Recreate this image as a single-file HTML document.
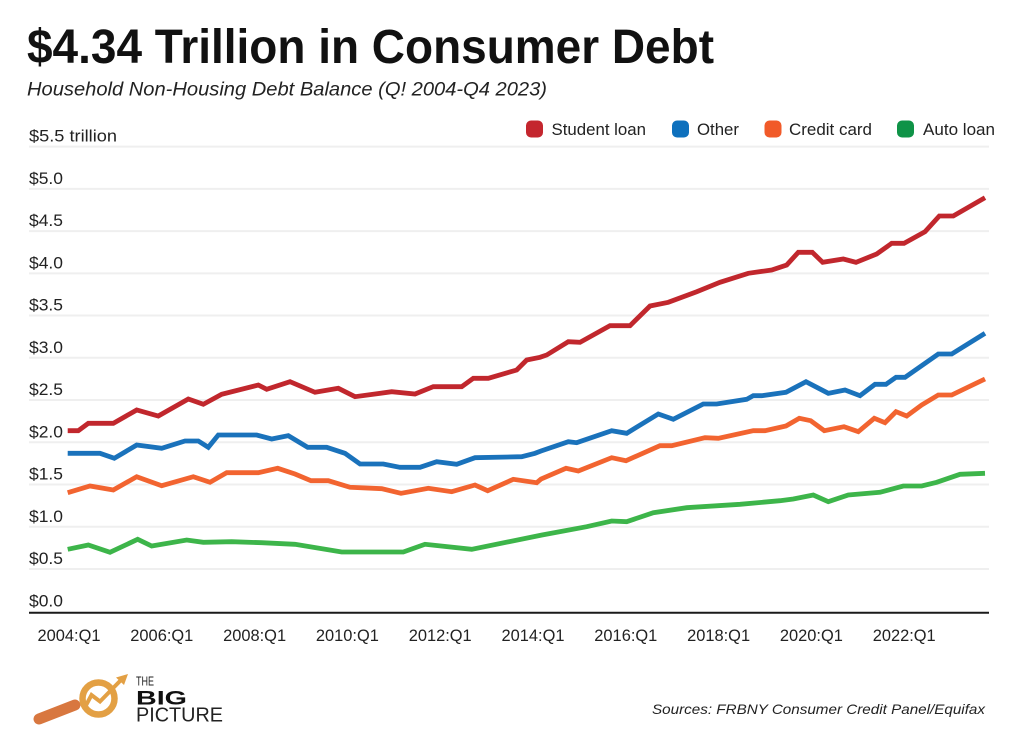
<!DOCTYPE html>
<html>
<head>
<meta charset="utf-8">
<style>
  html, body { margin: 0; padding: 0; background: #ffffff; }
  svg { display: block; }
  text { font-family: "Liberation Sans", "DejaVu Sans", sans-serif; }
</style>
</head>
<body>
<svg width="1023" height="749" viewBox="0 0 1023 749" xmlns="http://www.w3.org/2000/svg">
  <rect x="0" y="0" width="1023" height="749" fill="#ffffff"/>

  <!-- Title -->
  <text x="27" y="63" font-size="48" font-weight="bold" fill="#111111" textLength="687" lengthAdjust="spacingAndGlyphs">$4.34 Trillion in Consumer Debt</text>
  <text x="27" y="95.5" font-size="19.5" font-style="italic" fill="#222222" textLength="520" lengthAdjust="spacingAndGlyphs">Household Non-Housing Debt Balance (Q! 2004-Q4 2023)</text>

  <!-- Gridlines -->
  <g stroke="#efefef" stroke-width="2">
    <line x1="29" y1="568.97" x2="989" y2="568.97"/>
    <line x1="29" y1="526.73" x2="989" y2="526.73"/>
    <line x1="29" y1="484.5" x2="989" y2="484.5"/>
    <line x1="29" y1="442.26" x2="989" y2="442.26"/>
    <line x1="29" y1="400.03" x2="989" y2="400.03"/>
    <line x1="29" y1="357.8" x2="989" y2="357.8"/>
    <line x1="29" y1="315.56" x2="989" y2="315.56"/>
    <line x1="29" y1="273.32" x2="989" y2="273.32"/>
    <line x1="29" y1="231.1" x2="989" y2="231.1"/>
    <line x1="29" y1="188.85" x2="989" y2="188.85"/>
    <line x1="29" y1="146.6" x2="989" y2="146.6"/>
  </g>

  <!-- Y labels -->
  <g font-size="16.5" fill="#222222">
    <text x="29" y="606.5" textLength="34" lengthAdjust="spacingAndGlyphs">$0.0</text>
    <text x="29" y="564.2" textLength="34" lengthAdjust="spacingAndGlyphs">$0.5</text>
    <text x="29" y="521.9" textLength="34" lengthAdjust="spacingAndGlyphs">$1.0</text>
    <text x="29" y="479.6" textLength="34" lengthAdjust="spacingAndGlyphs">$1.5</text>
    <text x="29" y="437.4" textLength="34" lengthAdjust="spacingAndGlyphs">$2.0</text>
    <text x="29" y="395.1" textLength="34" lengthAdjust="spacingAndGlyphs">$2.5</text>
    <text x="29" y="352.9" textLength="34" lengthAdjust="spacingAndGlyphs">$3.0</text>
    <text x="29" y="310.6" textLength="34" lengthAdjust="spacingAndGlyphs">$3.5</text>
    <text x="29" y="268.4" textLength="34" lengthAdjust="spacingAndGlyphs">$4.0</text>
    <text x="29" y="226.2" textLength="34" lengthAdjust="spacingAndGlyphs">$4.5</text>
    <text x="29" y="183.9" textLength="34" lengthAdjust="spacingAndGlyphs">$5.0</text>
    <text x="29" y="141.6" textLength="88" lengthAdjust="spacingAndGlyphs">$5.5 trillion</text>
  </g>

  <!-- Legend -->
  <g font-size="16.5" fill="#222222">
    <rect x="526" y="120.5" width="17" height="17" rx="5" fill="#c4262e"/>
    <text x="551.5" y="135" textLength="94.5" lengthAdjust="spacingAndGlyphs">Student loan</text>
    <rect x="672" y="120.5" width="17" height="17" rx="5" fill="#0e70bd"/>
    <text x="697" y="135" textLength="42" lengthAdjust="spacingAndGlyphs">Other</text>
    <rect x="764.5" y="120.5" width="17" height="17" rx="5" fill="#f15a29"/>
    <text x="789" y="135" textLength="83" lengthAdjust="spacingAndGlyphs">Credit card</text>
    <rect x="897" y="120.5" width="17" height="17" rx="5" fill="#0f9347"/>
    <text x="923" y="135" textLength="72" lengthAdjust="spacingAndGlyphs">Auto loan</text>
  </g>

  <!-- Series -->
  <g fill="none" stroke-width="4.8" stroke-linejoin="miter" stroke-linecap="butt">
    <polyline stroke="#3db54a" points="67.7,549.3 88.3,545 110,552.3 137.7,539.3 151.7,546 186.7,540 203.3,542.3 231.7,541.7 261.7,542.7 295,544.3 341.7,552 403.3,552 425,544.3 471.7,549.3 542,535 586.7,526.7 611.7,521 626.7,521.7 653.3,512.7 686.7,507.7 740,504.3 780,500.7 793.3,499 813.3,495 828.3,501.7 848.3,495 880,492.3 903.3,486 921.7,486 936.7,482.3 960,474.3 985,473.3"/>
    <polyline stroke="#f26430" points="67.7,492.7 90,486 113.3,490 136.7,476.7 161.7,485.7 193.3,476.7 210,482.3 226.7,472.7 258.3,472.7 277.7,468.3 295,474 311,480.7 328.3,480.7 350,487.3 381.7,488.7 401,493.3 428.3,488.3 451.7,491.7 475,485 487.7,490.7 513.3,479.3 536.7,482.7 541,479 566,468.3 578.3,471 611.7,457.7 626,460.7 660,445.7 671.7,445.7 705,437.7 718.3,438.3 753.3,430.7 765,430.7 786,426 799.3,418.3 810.7,420.7 824.3,430.7 844,426.7 858.3,431.7 874.3,418.3 885,422.7 896,411.7 906.7,416 921.7,405 938.3,395 951.7,395 985,379"/>
    <polyline stroke="#1a72bb" points="67.7,453.3 100,453.3 114.3,458.3 136.7,445 161.7,448.3 185,441 198.3,441 208.3,447.3 218.3,435 256.7,435 271.7,439 288.3,435.7 307.7,447.3 326.7,447.3 345,453.3 360,464 383.3,464 400,467.3 420,467.3 436.7,461.7 456.7,464.3 475,457.7 521.7,456.7 535,453.3 541,451 568.3,441.7 576.7,442.7 611.7,430.7 626.7,433.3 658.3,414 673.3,419.3 703.3,404 716.7,404 746.7,399.3 753.3,395.7 761.7,395.7 786,392.3 806,381.7 828.3,393.3 845,390 860,395.7 875,384.3 886,384.3 896,377.3 905,377.3 938.3,354 951.7,354 985,333.3"/>
    <polyline stroke="#c1272d" points="67.7,430.7 78.3,430.7 88.3,423.3 113.3,423.3 136.7,410 158.3,416 188.3,399 203.3,404.3 221.7,394.3 258.3,385 266.7,389.3 290,381.7 315,392.3 338.3,388.3 355,396.7 391.7,391.7 415,394 433.3,386.7 461.7,386.7 473.3,378.3 488.3,378.3 516.7,370 526.7,360 540,357.3 546.7,355 568.3,341.7 580,342.3 610,325.7 630,325.7 650,306 668.3,302.3 696.7,291.7 720,282.3 748.3,273.3 771.7,270 786.7,265 798.3,252.3 812.3,252.3 822.7,262.3 843.3,259 856,262.3 876.7,254 891.7,243.3 904,243.3 925,231.7 939.3,216 953.3,216 985,197.7"/>
  </g>

  <!-- X axis -->
  <line x1="29" y1="612.7" x2="989" y2="612.7" stroke="#1a1a1a" stroke-width="2"/>

  <!-- X labels -->
  <g font-size="16.5" fill="#222222" text-anchor="middle">
    <text x="69" y="641" textLength="63" lengthAdjust="spacingAndGlyphs">2004:Q1</text>
    <text x="161.8" y="641" textLength="63" lengthAdjust="spacingAndGlyphs">2006:Q1</text>
    <text x="254.6" y="641" textLength="63" lengthAdjust="spacingAndGlyphs">2008:Q1</text>
    <text x="347.4" y="641" textLength="63" lengthAdjust="spacingAndGlyphs">2010:Q1</text>
    <text x="440.2" y="641" textLength="63" lengthAdjust="spacingAndGlyphs">2012:Q1</text>
    <text x="533" y="641" textLength="63" lengthAdjust="spacingAndGlyphs">2014:Q1</text>
    <text x="625.8" y="641" textLength="63" lengthAdjust="spacingAndGlyphs">2016:Q1</text>
    <text x="718.6" y="641" textLength="63" lengthAdjust="spacingAndGlyphs">2018:Q1</text>
    <text x="811.4" y="641" textLength="63" lengthAdjust="spacingAndGlyphs">2020:Q1</text>
    <text x="904.2" y="641" textLength="63" lengthAdjust="spacingAndGlyphs">2022:Q1</text>
  </g>

  <!-- Source -->
  <text x="652" y="714" font-size="14" font-style="italic" fill="#222222" textLength="333" lengthAdjust="spacingAndGlyphs">Sources: FRBNY Consumer Credit Panel/Equifax</text>

  <!-- Logo -->
  <g>
    <line x1="39" y1="719" x2="75" y2="705" stroke="#d8773f" stroke-width="11" stroke-linecap="round"/>
    <circle cx="98.5" cy="698.5" r="16" fill="none" stroke="#e3a044" stroke-width="6.5"/>
    <polyline points="84,709 91.5,695 100,701.5 121,680" fill="none" stroke="#e3a044" stroke-width="4" stroke-linejoin="miter"/>
    <polygon points="128,674 116,677.5 124,685" fill="#e3a044"/>
    <text x="136" y="685.7" font-size="12.5" fill="#222222" textLength="18" lengthAdjust="spacingAndGlyphs">THE</text>
    <text x="136" y="704.5" font-size="19" font-weight="bold" fill="#111111" textLength="51" lengthAdjust="spacingAndGlyphs">BIG</text>
    <text x="136" y="721.7" font-size="20.5" fill="#222222" textLength="87" lengthAdjust="spacingAndGlyphs">PICTURE</text>
  </g>
</svg>
</body>
</html>
